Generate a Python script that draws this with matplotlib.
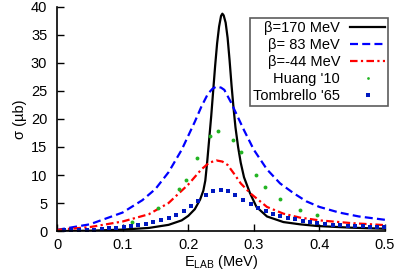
import matplotlib
matplotlib.use('Agg')
import matplotlib.pyplot as plt

plt.rcParams['font.family'] = ['Liberation Sans', 'DejaVu Sans']
plt.rcParams['mathtext.fontset'] = 'custom'
plt.rcParams['mathtext.rm'] = 'Liberation Sans'
plt.rcParams['mathtext.it'] = 'Liberation Sans:italic'

# beta = 170 MeV (solid black)
x_b170 = [0.0, 0.05, 0.1, 0.14, 0.17, 0.19, 0.20, 0.21, 0.218, 0.223, 0.226, 0.229, 0.232,
          0.235, 0.238, 0.241, 0.244, 0.247, 0.250, 0.252, 0.254, 0.257, 0.260, 0.263,
          0.266, 0.269, 0.272, 0.276, 0.280, 0.285, 0.294, 0.304, 0.32, 0.345, 0.37,
          0.396, 0.447, 0.5]
y_b170 = [0.0, 0.05, 0.25, 0.55, 1.1, 1.9, 2.7, 3.9, 5.6, 7.2, 9.0, 12.5, 16.5,
          20.5, 25.0, 29.5, 33.5, 36.5, 38.4, 38.8, 38.5, 37.2, 34.5, 30.5,
          26.0, 22.0, 18.5, 15.0, 12.2, 9.6, 6.8, 4.3, 2.6, 1.6, 1.2,
          0.9, 0.6, 0.4]

# beta = 83 MeV (blue dashed)
x_b83 = [0.0, 0.05, 0.1, 0.13, 0.15, 0.17, 0.19, 0.21, 0.22, 0.23, 0.237, 0.243, 0.25,
         0.255, 0.265, 0.275, 0.285, 0.30, 0.32, 0.34, 0.36, 0.38, 0.40, 0.43, 0.46, 0.5]
y_b83 = [0.2, 1.2, 3.3, 5.5, 7.5, 10.5, 14.5, 19.5, 22.2, 24.5, 25.4, 25.8, 25.6,
         25.2, 23.0, 20.5, 18.0, 14.5, 11.0, 8.5, 6.8, 5.3, 4.3, 3.3, 2.6, 2.0]

# beta = -44 MeV (red dash-dot)
x_bm44 = [0.0, 0.05, 0.1, 0.14, 0.17, 0.20, 0.22, 0.232, 0.243, 0.252, 0.26, 0.27,
          0.28, 0.295, 0.32, 0.345, 0.37, 0.40, 0.45, 0.5]
y_bm44 = [0.2, 0.7, 1.7, 3.0, 5.0, 8.3, 11.0, 12.2, 12.6, 12.4, 11.8, 10.2,
          8.5, 6.7, 4.3, 3.1, 2.4, 1.9, 1.4, 1.05]

# Huang '10
x_huang = [0.114, 0.154, 0.186, 0.196, 0.214, 0.233, 0.246, 0.268, 0.280, 0.303,
           0.317, 0.340, 0.370, 0.397]
y_huang = [1.66, 4.05, 7.45, 9.1, 13.1, 17.0, 17.9, 16.2, 14.1, 10.0,
           7.9, 5.7, 3.8, 2.9]

# Tombrello '65
x_tomb = [0.011, 0.022, 0.034, 0.045, 0.056, 0.068, 0.079, 0.090, 0.102, 0.113,
          0.124, 0.136, 0.147, 0.159, 0.170, 0.181, 0.193, 0.204, 0.215, 0.227,
          0.238, 0.250, 0.261, 0.272, 0.284, 0.295, 0.306, 0.318, 0.329, 0.340,
          0.352, 0.363, 0.375, 0.386, 0.397, 0.409, 0.420, 0.431, 0.443, 0.454,
          0.466, 0.477, 0.488, 0.499]
y_tomb = [0.1, 0.12, 0.15, 0.2, 0.25, 0.3, 0.45, 0.6, 0.75, 0.9,
          1.05, 1.3, 1.6, 1.9, 2.25, 2.8, 3.5, 4.4, 5.4, 6.4,
          7.1, 7.3, 7.1, 6.4, 5.6, 4.8, 4.1, 3.5, 3.0, 2.6,
          2.35, 2.1, 1.85, 1.6, 1.45, 1.3, 1.15, 1.05, 0.95, 0.88,
          0.82, 0.76, 0.7, 0.65]

xticks = [0, 0.1, 0.2, 0.3, 0.4, 0.5]
xtick_labels = ['0', '0.1', '0.2', '0.3', '0.4', '0.5']
yticks = [0, 5, 10, 15, 20, 25, 30, 35, 40]

fig = plt.figure(figsize=(3.99, 2.79), dpi=100)
ax = fig.add_axes([0.143, 0.172, 0.822, 0.803])

ax.plot(x_b170, y_b170, color='black', lw=1.6, label=r'β=170 MeV')
ax.plot(x_b83, y_b83, color='#0000ff', lw=1.6, linestyle=(0, (3.6, 1.9)), label=r'β= 83 MeV')
ax.plot(x_bm44, y_bm44, color='#ff0000', lw=1.6, linestyle=(0, (3.4, 1.5, 1.0, 1.5)),
        label=r'β=-44 MeV')
ax.plot(x_huang, y_huang, linestyle='none', marker='o', ms=2.8, color='#22b422',
        markeredgewidth=0, label="Huang '10")
ax.plot(x_tomb, y_tomb, linestyle='none', marker='s', ms=3.4, color='#0018c0',
        markeredgewidth=0, label="Tombrello '65")

ax.set_xlim(0, 0.5)
ax.set_ylim(0, 40)
ax.set_xticks(xticks)
ax.set_xticklabels(xtick_labels)
ax.set_yticks(yticks)
ax.tick_params(direction='in', length=5, width=1, labelsize=10.5, pad=5)
ax.tick_params(axis='y', pad=7)
for s in ['top', 'right']:
    ax.spines[s].set_visible(False)
for s in ['left', 'bottom']:
    ax.spines[s].set_linewidth(1.2)

ax.set_xlabel(r'E$_{\rm LAB}$ (MeV)', fontsize=10.5, labelpad=1)
ax.set_ylabel('σ (µb)', fontsize=10.5, labelpad=3)

leg = ax.legend(loc='upper right', bbox_to_anchor=(1.01, 0.95), markerfirst=False,
                fontsize=10.5, frameon=True, fancybox=False, handlelength=2.4,
                labelspacing=0.2, borderpad=0.2, handletextpad=0.7, borderaxespad=0,
                markerscale=0.7)
leg.get_frame().set_edgecolor('#333333')
leg.get_frame().set_linewidth(1.2)

fig.savefig('out.png', dpi=100)
